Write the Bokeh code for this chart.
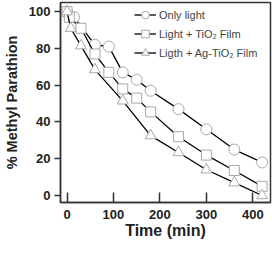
from bokeh.plotting import figure
from bokeh.models import Range1d, FixedTicker, Legend, LegendItem
from bokeh.embed import file_html
from bokeh.resources import INLINE

# Data
t_light = [0, 15, 60, 90, 120, 150, 180, 240, 300, 360, 420]
y_light = [100, 97, 82, 81, 67, 63, 57, 47, 36, 25, 18]

t_tio2 = [0, 5, 30, 60, 90, 120, 150, 180, 240, 300, 360, 420]
y_tio2 = [100, 97, 91, 77, 67, 58, 53, 45.5, 32, 22, 13.6, 5]

t_ag = [0, 8, 30, 60, 120, 180, 240, 300, 360, 420]
y_ag = [100, 91, 81.5, 68.5, 51.5, 32.6, 23.4, 14, 7, 0]

labels = ["Only light", "Light + TiO\u2082 Film", "Ligth + Ag-TiO\u2082 Film"]
x_ticks = [0, 100, 200, 300, 400]
y_ticks = [0, 20, 40, 60, 80, 100]

FONT = "Liberation Sans"
MARK = "#a8a8a8"

p = figure(width=272, height=254, output_backend="svg", toolbar_location=None,
           x_range=Range1d(-14, 438), y_range=Range1d(-3.8, 105),
           min_border_left=59, min_border_right=2, min_border_top=2, min_border_bottom=52)
p.grid.visible = False
p.outline_line_color = "#333333"
p.outline_line_width = 1.5
p.background_fill_color = "white"

r1l = p.line(t_light, y_light, line_color="black", line_width=1.3)
r1m = p.scatter(t_light, y_light, marker="circle", size=11, line_color=MARK, fill_color="white", line_width=1)
r2l = p.line(t_tio2, y_tio2, line_color="black", line_width=1.3)
r2m = p.scatter(t_tio2, y_tio2, marker="square", size=10, line_color=MARK, fill_color="white", line_width=1)
r3l = p.line(t_ag, y_ag, line_color="black", line_width=1.3)
r3m = p.scatter(t_ag, y_ag, marker="triangle", size=11, line_color=MARK, fill_color="white", line_width=1)

for ax in (p.xaxis[0], p.yaxis[0]):
    ax.axis_line_color = "#333333"
    ax.axis_line_width = 1.5
    ax.major_tick_line_color = "#333333"
    ax.major_tick_line_width = 1.5
    ax.minor_tick_line_color = None
    ax.major_label_text_font = FONT
    ax.major_label_text_font_style = "bold"
    ax.major_label_text_font_size = "13px"
    ax.major_label_text_color = "#222222"
    ax.axis_label_text_font = FONT
    ax.axis_label_text_font_style = "bold"
    ax.axis_label_text_color = "#222222"

p.xaxis.ticker = FixedTicker(ticks=x_ticks)
p.yaxis.ticker = FixedTicker(ticks=y_ticks)
p.xaxis.major_tick_in = 10
p.xaxis.major_tick_out = 0
p.xaxis.major_label_standoff = 7
p.xaxis.axis_label = "Time (min)"
p.xaxis.axis_label_text_font_size = "16px"
p.xaxis.axis_label_standoff = 0
p.yaxis.major_tick_in = 0
p.yaxis.major_tick_out = 6
p.yaxis.major_label_standoff = 4
p.yaxis.axis_label = "% Methyl Parathion"
p.yaxis.axis_label_text_font_size = "14.5px"
p.yaxis.axis_label_standoff = 6

legend = Legend(items=[LegendItem(label=labels[0], renderers=[r1l, r1m]),
                       LegendItem(label=labels[1], renderers=[r2l, r2m]),
                       LegendItem(label=labels[2], renderers=[r3l, r3m])],
                location=(72, 138), border_line_alpha=0, background_fill_alpha=0,
                glyph_width=22, glyph_height=19, spacing=0, padding=2, margin=0,
                label_standoff=3, label_text_font=FONT, label_text_font_size="11px",
                label_height=19)
p.add_layout(legend)

open("out.html", "w").write(file_html(p, INLINE))
